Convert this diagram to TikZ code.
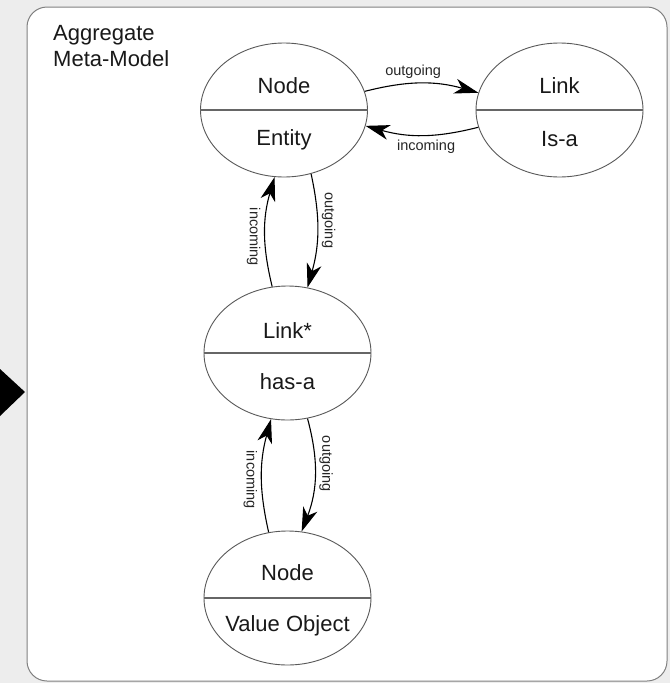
\documentclass[tikz,border=0pt]{standalone}
\usepackage{fontspec}
\setmainfont{Liberation Sans}
\usetikzlibrary{shapes.geometric,arrows.meta}

\tikzset{
  part/.style={ellipse, draw=black!65, line width=0.9pt, minimum width=167pt, minimum height=134pt, inner sep=0pt},
  divider/.style={draw=black!60, line width=1.5pt},
  word/.style={font=\fontsize{22}{26}\selectfont, text=black!90, anchor=base, inner sep=0pt},
  tag/.style={font=\fontsize{14.5}{17}\selectfont, text=black!85, inner sep=4pt},
  flow/.style={-{Stealth[length=24pt,width=15pt,inset=7pt]}, line width=1.1pt, draw=black},
}

\begin{document}
\begin{tikzpicture}[x=1pt, y=-1pt]
    % page and frame
    \fill[black!7] (0,0) rectangle (670,683);
    \useasboundingbox (0,0) rectangle (670,683);
    \draw[black!50, line width=1pt, fill=white, rounded corners=20pt] (27,7) rectangle (667,681);
    \fill[black] (0,369) -- (25,392) -- (0,416) -- cycle;

    \node[word, anchor=base west] at (53,40.5) (agg)  {Aggregate};
    \node[word, anchor=base west] at (53,66)   (meta) {Meta-Model};

    \node[part] at (284, 110)   (entity)  {};
    \node[part] at (559.5, 110) (isa)     {};
    \node[part] at (287.5, 353) (haslink) {};
    \node[part] at (287.5, 598) (value)   {};

    \draw[divider] (entity.west)  -- (entity.east);
    \draw[divider] (isa.west)     -- (isa.east);
    \draw[divider] (haslink.west) -- (haslink.east);
    \draw[divider] (value.west)   -- (value.east);

    \node[word] at (284, 93)    (entity-up)  {Node};
    \node[word] at (284, 145)   (entity-dn)  {Entity};
    \node[word] at (559.5, 93)  (isa-up)     {Link};
    \node[word] at (559.5, 146) (isa-dn)     {Is-a};
    \node[word] at (287.5, 338) (haslink-up) {Link*};
    \node[word] at (287.5, 389) (haslink-dn) {has-a};
    \node[word] at (287.5, 580) (value-up)   {Node};
    \node[word] at (287.5, 631) (value-dn)   {Value Object};

    \path  (entity.13) edge[flow, bend left=15] node[tag, pos=0.42, anchor=south] (out1) {outgoing} (isa.168);
    \path  (isa.192) edge[flow, bend left=15] node[tag, pos=0.46, anchor=north] (in1) {incoming} (entity.-11);

    \path  (entity.-67) edge[flow, bend left=14] node[tag, pos=0.4, anchor=south, rotate=-90] (out2) {outgoing} (haslink.73);
    \path  (haslink.103) edge[flow, bend left=15] node[tag, pos=0.45, anchor=north, rotate=-90] (in2) {incoming} (entity.-98);

    \path  (haslink.-73) edge[flow, bend left=18] node[tag, pos=0.39, anchor=south, rotate=-90] (out3) {outgoing} (value.78);
    \path  (value.106) edge[flow, bend left=14] node[tag, pos=0.46, anchor=north, rotate=-90] (in3) {incoming} (haslink.-104);
  \end{tikzpicture}
\end{document}
